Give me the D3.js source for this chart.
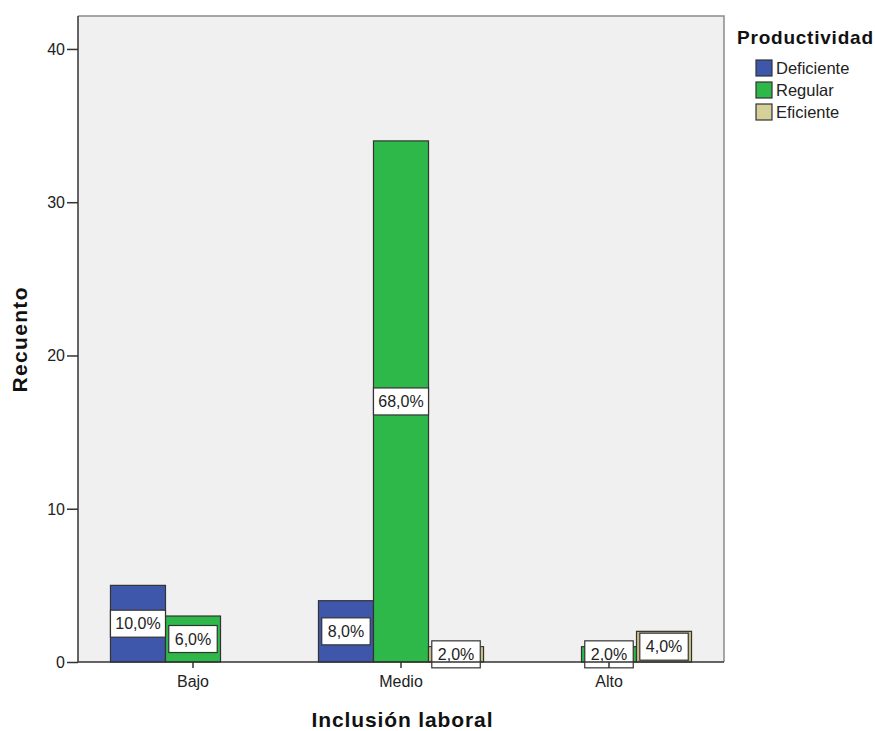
<!DOCTYPE html>
<html><head><meta charset="utf-8">
<script src="https://cdn.jsdelivr.net/npm/d3@7"></script>
<style>
html,body{margin:0;padding:0;background:#fff;}
svg{display:block;font-family:Arial,"Liberation Sans",sans-serif;}
</style></head>
<body>
<svg id="chart" width="875" height="731"></svg>
<script>
const categories = ["Bajo", "Medio", "Alto"];
const seriesNames = ["Deficiente", "Regular", "Eficiente"];
const deficiente = [5, 4, 0];
const regular = [3, 34, 1];
const eficiente = [0, 1, 2];
const percentLabels = {
  Deficiente: ["10,0%", "8,0%", ""],
  Regular: ["6,0%", "68,0%", "2,0%"],
  Eficiente: ["", "2,0%", "4,0%"]
};
const yTicks = [0, 10, 20, 30, 40];
const colors = ["#3f57aa", "#2fb84a", "#d5cf98"];
const seriesValues = [deficiente, regular, eficiente];

const svg = d3.select("#chart");
const plot = {left: 78, right: 724, top: 16, bottom: 662};

const y = d3.scaleLinear().domain([0, 42.15]).range([plot.bottom, plot.top]);
const x0 = d3.scaleBand().domain(categories).range([plot.left + 11, plot.right - 11]).padding(0);
const x1 = d3.scaleBand().domain(seriesNames).range([0, x0.bandwidth()]).paddingInner(0).paddingOuter(0.39);
const color = d3.scaleOrdinal().domain(seriesNames).range(colors);

// plot background
svg.append("rect").attr("x", plot.left).attr("y", plot.top)
  .attr("width", plot.right - plot.left).attr("height", plot.bottom - plot.top)
  .attr("fill", "#f0f0f0").attr("stroke", "none");
// top and right border
svg.append("path").attr("d", `M${plot.left},${plot.top}H${plot.right}V${plot.bottom}`)
  .attr("fill", "none").attr("stroke", "#8a8a8a").attr("stroke-width", 1.5);

// data table
const rows = [];
categories.forEach((c, i) => {
  seriesNames.forEach((s, j) => {
    rows.push({cat: c, series: s, value: seriesValues[j][i], label: percentLabels[s][i]});
  });
});
const bars = rows.filter(d => d.value > 0);

const g = svg.append("g");
g.selectAll("rect.bar").data(bars).join("rect")
  .attr("class", "bar")
  .attr("x", d => x0(d.cat) + x1(d.series))
  .attr("y", d => y(d.value))
  .attr("width", x1.bandwidth())
  .attr("height", d => y(0) - y(d.value))
  .attr("fill", d => color(d.series))
  .attr("stroke", "#333")
  .attr("stroke-width", 1.2);

// inner darker outline for Eficiente (beige) bars
g.selectAll("rect.inner").data(bars.filter(d => d.series === "Eficiente")).join("rect")
  .attr("class", "inner")
  .attr("x", d => x0(d.cat) + x1(d.series) + 1.5)
  .attr("y", d => y(d.value) + 1.5)
  .attr("width", x1.bandwidth() - 3)
  .attr("height", d => Math.max(0, y(0) - y(d.value) - 3))
  .attr("fill", "none")
  .attr("stroke", "#b5ae72")
  .attr("stroke-width", 1);

// axes
const yAxis = d3.axisLeft(y).tickValues(yTicks).tickSize(11).tickPadding(2).tickFormat(d3.format("d"));
const ya = svg.append("g").attr("transform", `translate(${plot.left},0)`).call(yAxis);
ya.select(".domain").attr("stroke", "#333").attr("stroke-width", 1.5)
  .attr("d", `M0,${plot.top}V${plot.bottom}`);
ya.selectAll(".tick line").attr("stroke", "#333").attr("stroke-width", 1.5);
ya.selectAll(".tick text").attr("font-size", 16).attr("fill", "#222").attr("dy", "0.34em");

const xAxis = d3.axisBottom(x0).tickSize(6).tickPadding(8);
const xa = svg.append("g").attr("transform", `translate(0,${plot.bottom})`).call(xAxis);
xa.select(".domain").attr("stroke", "#333").attr("stroke-width", 1.5)
  .attr("d", `M${plot.left},0H${plot.right}`);
xa.selectAll(".tick line").attr("stroke", "#333").attr("stroke-width", 1.5);
xa.selectAll(".tick text").attr("font-size", 16).attr("fill", "#222");

// labels
const lab = g.selectAll("g.lab").data(bars.filter(d => d.label)).join("g").attr("class", "lab")
  .attr("transform", d => `translate(${x0(d.cat) + x1(d.series) + x1.bandwidth() / 2},${(y(d.value) + y(0)) / 2})`);
lab.append("text").attr("text-anchor", "middle").attr("dy", "0.36em")
  .attr("font-size", 16).attr("fill", "#222").text(d => d.label);
lab.each(function() {
  const sel = d3.select(this);
  const w = Math.min(sel.select("text").node().getComputedTextLength() + 12, x1.bandwidth());
  sel.insert("rect", "text").attr("x", -w / 2).attr("y", -13.5).attr("width", w).attr("height", 27)
    .attr("fill", "#fff").attr("stroke", "#333").attr("stroke-width", 1.2);
});

// axis titles
svg.append("text").attr("x", 402).attr("y", 727).attr("text-anchor", "middle")
  .attr("font-size", 21).attr("font-weight", "bold").attr("fill", "#111")
  .attr("textLength", 181).attr("lengthAdjust", "spacing").text("Inclusión laboral");
svg.append("text").attr("transform", "translate(27,340) rotate(-90)").attr("text-anchor", "middle")
  .attr("font-size", 21).attr("font-weight", "bold").attr("fill", "#111")
  .attr("textLength", 105).attr("lengthAdjust", "spacing").text("Recuento");

// legend
const leg = svg.append("g");
leg.append("text").attr("x", 737).attr("y", 44).attr("font-size", 19).attr("font-weight", "bold")
  .attr("fill", "#111").attr("textLength", 136).attr("lengthAdjust", "spacing").text("Productividad");
const li = leg.selectAll("g.li").data(seriesNames).join("g").attr("class", "li")
  .attr("transform", (d, i) => `translate(756,${60 + i * 22})`);
li.append("rect").attr("width", 16).attr("height", 16).attr("fill", d => color(d))
  .attr("stroke", "#333").attr("stroke-width", 1.2);
li.append("text").attr("x", 20).attr("y", 8).attr("dy", "0.36em").attr("font-size", 16.5)
  .attr("fill", "#222").text(d => d);
</script>
</body></html>
